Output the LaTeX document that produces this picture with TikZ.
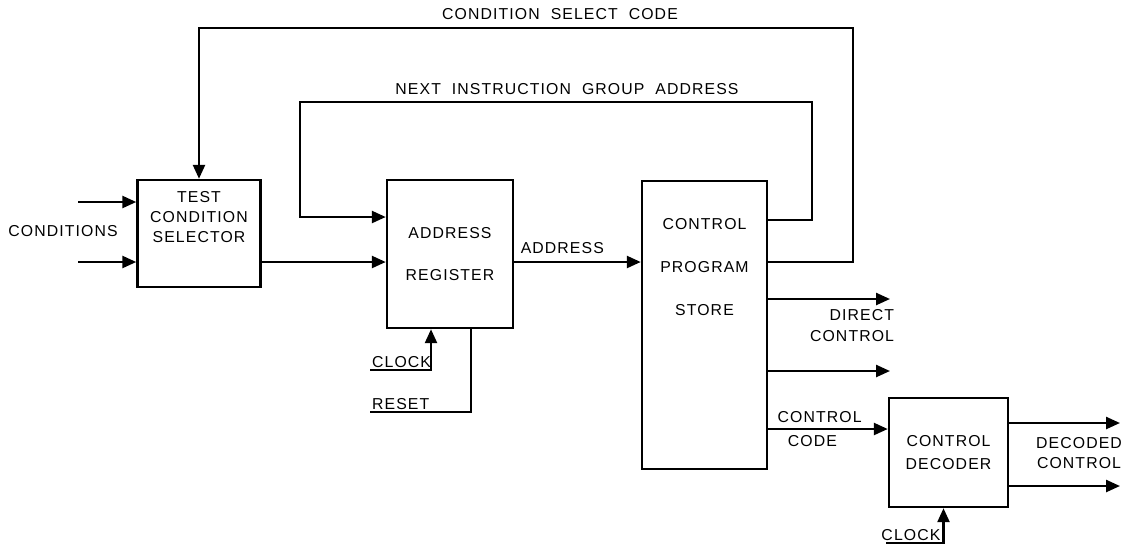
\documentclass[tikz,border=0pt]{standalone}
\usepackage{fontspec}
\setmainfont{Liberation Sans}[LetterSpace=7, WordSpace=2]
\usetikzlibrary{arrows.meta,positioning}

\tikzset{
  blk/.style 2 args={draw, line width=1.4pt, minimum width=#1, minimum height=#2, inner sep=0pt, align=center},
  sig/.style={line width=1.4pt},
  arr/.style={sig, -{Triangle[length=2.8mm,width=2.4mm]}},
  txt/.style={align=center, inner sep=1.5pt}
}

\begin{document}
\begin{tikzpicture}[x=0.02cm, y=-0.02cm, font=\fontsize{9}{11.4}\selectfont]
\useasboundingbox (0,0) rectangle (1126,556);

% Blocks
\node[blk={2.46cm}{2.14cm}] (tcs) at (199,233.5) {};
\node[txt, below=0.2cm of tcs.north] (tcs-t) {TEST\\CONDITION\\SELECTOR};
\node[blk={2.52cm}{2.96cm}] (ar) at (450,254) {ADDRESS\\[13pt]REGISTER};
\node[blk={2.5cm}{5.76cm}] (cps) at (704.5,325) {};
\node[txt, below=0.72cm of cps.north] (cps-t) {CONTROL\\[13pt]PROGRAM\\[13pt]STORE};
\node[blk={2.38cm}{2.18cm}] (cd) at (948.5,452.5) {CONTROL\\[2pt]DECODER};

% Rows and corners
\coordinate (cin1) at (78,202);
\coordinate (cin2) at (78,262);
\coordinate (mainrow) at (0,262);
\coordinate (csc) at (853,28);
\coordinate (nig) at (812,102);
\coordinate (nigrow) at (0,220);
\coordinate (nigl) at (300,217);
\coordinate (clk1) at (370,370);
\coordinate (rst) at (370,412);
\coordinate (dc1) at (890,299);
\coordinate (dc2) at (890,371);
\coordinate (ccrow) at (0,429);
\coordinate (dec1) at (1120,423);
\coordinate (dec2) at (1120,486);
\coordinate (clk2) at (886,543);

% Conditions in
\draw[arr] (cin1) -- (tcs.west |- cin1);
\draw[arr] (cin2) -- (tcs.west |- cin2);
\node (cond) at (63,231) {CONDITIONS};

% Main path
\draw[arr] (tcs.east |- mainrow) -- (ar.west |- mainrow);
\draw[arr] (ar.east |- mainrow) -- node[above, pos=0.38, inner sep=4pt] (addr) {ADDRESS} (cps.west |- mainrow);

% Feedback loops
\draw[arr] (cps.east |- mainrow) -| (csc) -| (tcs.north);
\node (csc-l) at (560,14) {CONDITION SELECT CODE};
\draw[arr] (cps.east |- nigrow) -| (nig) -| (nigl) -- (ar.west |- nigl);
\node (nig-l) at (567,89) {NEXT INSTRUCTION GROUP ADDRESS};

% Clock and reset
\draw[arr] (clk1) -| ([xshift=-0.38cm]ar.south);
\node[above right, inner sep=1pt] (clk1-l) at (clk1) {CLOCK};
\draw[sig] (rst) -| ([xshift=0.42cm]ar.south);
\node[above right, inner sep=1pt] (rst-l) at (rst) {RESET};

% Outputs of store
\draw[arr] (cps.east |- dc1) -- (dc1);
\draw[arr] (cps.east |- dc2) -- (dc2);
\node[txt, anchor=north east, align=right] (dc-l) at (897,306) {DIRECT\\[1pt]CONTROL};
\draw[arr] (cps.east |- ccrow) -- node[above, pos=0.43, inner sep=3pt] (cc-a) {CONTROL} node[below, pos=0.37, inner sep=3pt] (cc-b) {CODE} (cd.west |- ccrow);

% Decoder
\draw[arr] (cd.east |- dec1) -- (dec1);
\draw[arr] (cd.east |- dec2) -- (dec2);
\node[txt] (dec-l) at (1079,453) {DECODED\\CONTROL};
\draw[arr] (clk2) -| ([xshift=-0.1cm]cd.south);
\node[above left, inner sep=1pt] (clk2-l) at ([xshift=-0.12cm]cd.south |- clk2) {CLOCK};

\end{tikzpicture}
\end{document}
